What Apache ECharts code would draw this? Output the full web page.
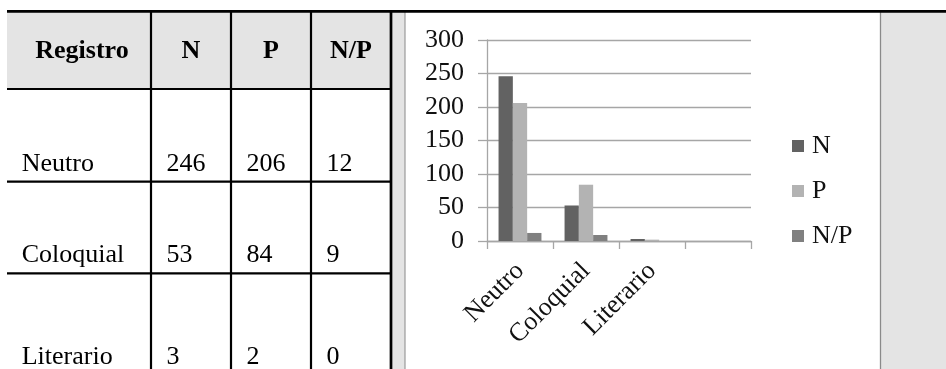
<!DOCTYPE html>
<html>
<head>
<meta charset="utf-8">
<script src="https://cdn.jsdelivr.net/npm/echarts@6/dist/echarts.min.js"></script>
<style>
  html, body { margin: 0; padding: 0; background: #fff; }
  #main { width: 946px; height: 369px; }
</style>
</head>
<body>
<div id="main"></div>
<script>
// data
var categories = ['Neutro', 'Coloquial', 'Literario', ''];
var seriesNames = ['N', 'P', 'N/P'];
var valuesN = [246, 53, 3];
var valuesP = [206, 84, 2];
var valuesNP = [12, 9, 0];
var yTicks = [0, 50, 100, 150, 200, 250, 300];
var tableHead = ['Registro', 'N', 'P', 'N/P'];

var FONT = '"Liberation Serif", "Times New Roman", serif';
var myChart = echarts.init(document.getElementById('main'));

// table layout (positions only)
var colX = [7, 151, 231, 311, 391];
var rowY = [12, 89, 181.7, 273.3, 369];
var textBase = [172, 263, 365];

var els = [];
// gray backgrounds
els.push({type: 'rect', shape: {x: 7, y: 12, width: 384, height: 77}, style: {fill: '#e4e4e4'}, silent: true});
els.push({type: 'rect', shape: {x: 391, y: 12, width: 14, height: 357}, style: {fill: '#e4e4e4'}, silent: true});
els.push({type: 'rect', shape: {x: 880, y: 12, width: 66, height: 357}, style: {fill: '#e4e4e4'}, silent: true});
els.push({type: 'line', shape: {x1: 405, y1: 12, x2: 405, y2: 369}, style: {stroke: '#9a9a9a', lineWidth: 1.2}, silent: true});
els.push({type: 'line', shape: {x1: 880.5, y1: 12, x2: 880.5, y2: 369}, style: {stroke: '#8a8a8a', lineWidth: 1.3}, silent: true});
// top rule
els.push({type: 'line', shape: {x1: 7, y1: 11.3, x2: 946, y2: 11.3}, style: {stroke: '#000', lineWidth: 2.7}, silent: true});
// table rows
for (var r = 1; r < 4; r++) {
  els.push({type: 'line', shape: {x1: 7, y1: rowY[r], x2: 391, y2: rowY[r]}, style: {stroke: '#000', lineWidth: 2.2}, silent: true});
}
// table columns
for (var c = 1; c < colX.length; c++) {
  els.push({type: 'line', shape: {x1: colX[c], y1: 12, x2: colX[c], y2: 369},
    style: {stroke: '#000', lineWidth: c === 4 ? 2.7 : 2.2}, silent: true});
}
// header text
tableHead.forEach(function (h, i) {
  els.push({type: 'text', silent: true, style: {
    text: h, x: (colX[i] + colX[i + 1]) / 2 + (i === 0 ? 3 : 0), y: 51.5,
    font: 'bold 26px ' + FONT, fill: '#000', align: 'center', verticalAlign: 'middle'}});
});
// body text
var cols = [categories, valuesN, valuesP, valuesNP];
for (var k = 0; k < 3; k++) {
  for (var j = 0; j < 4; j++) {
    els.push({type: 'text', silent: true, style: {
      text: String(cols[j][k]), x: colX[j] + (j === 0 ? 14.7 : 15.5), y: textBase[k] - 8,
      font: '26px ' + FONT, fill: '#000', align: 'left', verticalAlign: 'middle'}});
  }
}

var colors = ['#626262', '#b3b3b3', '#808080'];
var lineColor = '#a6a6a6';

myChart.setOption({
  animation: false,
  backgroundColor: '#fff',
  graphic: {elements: els},
  grid: {left: 487, right: 195, top: 40, bottom: 128, containLabel: false},
  legend: {
    orient: 'vertical', left: 787, top: 128,
    itemWidth: 12, itemHeight: 12, itemGap: 19,
    icon: 'rect',
    textStyle: {fontFamily: FONT, fontSize: 26, color: '#111', padding: [0, 0, 0, 3]},
    data: seriesNames
  },
  xAxis: {
    type: 'category',
    data: categories,
    axisLine: {lineStyle: {color: lineColor, width: 1.3}},
    axisTick: {show: true, length: 8, alignWithLabel: false, lineStyle: {color: lineColor, width: 1.3}},
    axisLabel: {rotate: 45, margin: 26, interval: 0, fontFamily: FONT, fontSize: 26, color: '#111'}
  },
  yAxis: {
    type: 'value',
    min: yTicks[0], max: yTicks[yTicks.length - 1], interval: 50,
    axisLine: {show: true, lineStyle: {color: lineColor, width: 1.3}},
    axisTick: {show: true, inside: false, length: 9, lineStyle: {color: lineColor, width: 1.3}},
    splitLine: {lineStyle: {color: lineColor, width: 1.3}},
    axisLabel: {margin: 23, fontFamily: FONT, fontSize: 26, color: '#111'}
  },
  series: [
    {name: 'N', type: 'bar', data: valuesN, barGap: '0%', barCategoryGap: '35%', itemStyle: {color: colors[0]}},
    {name: 'P', type: 'bar', data: valuesP, itemStyle: {color: colors[1]}},
    {name: 'N/P', type: 'bar', data: valuesNP, itemStyle: {color: colors[2]}}
  ]
});
</script>
</body>
</html>
